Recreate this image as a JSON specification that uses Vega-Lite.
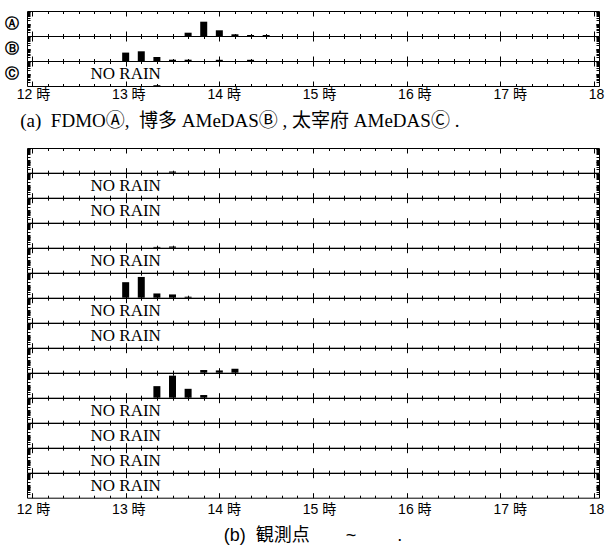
{
  "$schema": "https://vega.github.io/schema/vega-lite/v6.json",
  "padding": {"left": 3, "top": 10, "right": 0, "bottom": 0},
  "config": {
    "view": {"stroke": "black", "strokeWidth": 1},
    "axis": {"grid": false, "labels": false, "domain": false, "tickColor": "black", "labelColor": "black"}
  },
  "datasets": {
    "d": [
      {"st": "A", "t": "2000-01-01T13:40Z", "v": 3.3},
      {"st": "A", "t": "2000-01-01T13:50Z", "v": 14.3},
      {"st": "A", "t": "2000-01-01T14:00Z", "v": 5.7},
      {"st": "A", "t": "2000-01-01T14:10Z", "v": 1.7},
      {"st": "A", "t": "2000-01-01T14:20Z", "v": 1},
      {"st": "A", "t": "2000-01-01T14:30Z", "v": 1},
      {"st": "B", "t": "2000-01-01T13:00Z", "v": 8.4},
      {"st": "B", "t": "2000-01-01T13:10Z", "v": 9.7},
      {"st": "B", "t": "2000-01-01T13:20Z", "v": 4},
      {"st": "B", "t": "2000-01-01T13:30Z", "v": 1.3},
      {"st": "B", "t": "2000-01-01T13:40Z", "v": 1.3},
      {"st": "B", "t": "2000-01-01T14:00Z", "v": 1.2},
      {"st": "B", "t": "2000-01-01T14:20Z", "v": 1.2},
      {"st": "C", "t": "2000-01-01T13:20Z", "v": 0.8},
      {"st": "C", "note": "NO RAIN"},
      {"st": "1", "t": "2000-01-01T13:30Z", "v": 1.2},
      {"st": "2", "note": "NO RAIN"},
      {"st": "3", "note": "NO RAIN"},
      {"st": "4", "t": "2000-01-01T13:20Z", "v": 0.8},
      {"st": "4", "t": "2000-01-01T13:30Z", "v": 1.2},
      {"st": "5", "note": "NO RAIN"},
      {"st": "6", "t": "2000-01-01T13:00Z", "v": 15.7},
      {"st": "6", "t": "2000-01-01T13:10Z", "v": 21},
      {"st": "6", "t": "2000-01-01T13:20Z", "v": 4.3},
      {"st": "6", "t": "2000-01-01T13:30Z", "v": 3.3},
      {"st": "6", "t": "2000-01-01T13:40Z", "v": 1},
      {"st": "7", "note": "NO RAIN"},
      {"st": "8", "note": "NO RAIN"},
      {"st": "9", "t": "2000-01-01T13:50Z", "v": 2.7},
      {"st": "9", "t": "2000-01-01T14:00Z", "v": 2.3},
      {"st": "9", "t": "2000-01-01T14:10Z", "v": 4},
      {"st": "10", "t": "2000-01-01T13:20Z", "v": 11.7},
      {"st": "10", "t": "2000-01-01T13:30Z", "v": 22.3},
      {"st": "10", "t": "2000-01-01T13:40Z", "v": 9},
      {"st": "10", "t": "2000-01-01T13:50Z", "v": 2.7},
      {"st": "11", "note": "NO RAIN"},
      {"st": "12", "note": "NO RAIN"},
      {"st": "13", "note": "NO RAIN"},
      {"st": "14", "note": "NO RAIN"}
    ]
  },
  "vconcat": [
    {
      "data": {"name": "d"}, "transform": [{"filter": "datum.st == 'A'"}],
      "width": 572, "height": 25,
      "layer": [
        {"mark": {"type": "bar", "size": 7, "color": "black"},
         "encoding": {
           "x": {"field": "t", "type": "temporal", "scale": {"type": "utc", "domain": [946728000000, 946749600000]},
             "axis": {"orient": "bottom", "title": null, "offset": -5, "tickSize": 10, "values": [946728000000,946728600000,946729200000,946729800000,946730400000,946731000000,946731600000,946732200000,946732800000,946733400000,946734000000,946734600000,946735200000,946735800000,946736400000,946737000000,946737600000,946738200000,946738800000,946739400000,946740000000,946740600000,946741200000,946741800000,946742400000,946743000000,946743600000,946744200000,946744800000,946745400000,946746000000,946746600000,946747200000,946747800000,946748400000,946749000000,946749600000],
               "tickDash": {"condition": {"test": "utcminutes(datum.value) === 0", "value": []}, "value": [0, 2.5, 5, 10]}}},
           "y": {"field": "v", "type": "quantitative", "scale": {"domain": [0, 25], "nice": false},
             "axis": {"orient": "left", "offset": -3, "tickSize": 3, "values": [3.8,6,7.5,8.7,9.7,10.6,11.3,11.9,12.5,16.3,18.5,20,21.2,22.2,23.1,23.8,24.4],
               "title": "Ⓐ", "titleAngle": 0, "titleX": -19, "titleY": 12.5, "titleAlign": "center", "titleBaseline": "middle", "titleFontSize": 14, "titleFontWeight": "bold", "titleColor": "black"}}}},
        {"mark": {"type": "point", "opacity": 0},
         "encoding": {
           "x": {"field": "t", "type": "temporal", "axis": {"orient": "top", "title": null, "offset": -5, "tickSize": 5, "values": [946728000000,946728600000,946729200000,946729800000,946730400000,946731000000,946731600000,946732200000,946732800000,946733400000,946734000000,946734600000,946735200000,946735800000,946736400000,946737000000,946737600000,946738200000,946738800000,946739400000,946740000000,946740600000,946741200000,946741800000,946742400000,946743000000,946743600000,946744200000,946744800000,946745400000,946746000000,946746600000,946747200000,946747800000,946748400000,946749000000,946749600000],
               "tickDash": {"condition": {"test": "utcminutes(datum.value) === 0", "value": []}, "value": [0, 2.5, 2.5]}}},
           "y": {"field": "v", "type": "quantitative", "axis": {"orient": "right", "title": null, "offset": -3, "tickSize": 3, "values": [3.8,6,7.5,8.7,9.7,10.6,11.3,11.9,12.5,16.3,18.5,20,21.2,22.2,23.1,23.8,24.4]}}}}
      ],
      "resolve": {"axis": {"x": "independent", "y": "independent"}}
    },
    {
      "data": {"name": "d"}, "transform": [{"filter": "datum.st == 'B'"}],
      "width": 572, "height": 25,
      "layer": [
        {"mark": {"type": "bar", "size": 7, "color": "black"},
         "encoding": {
           "x": {"field": "t", "type": "temporal", "scale": {"type": "utc", "domain": [946728000000, 946749600000]},
             "axis": {"orient": "bottom", "title": null, "offset": -5, "tickSize": 10, "values": [946728000000,946728600000,946729200000,946729800000,946730400000,946731000000,946731600000,946732200000,946732800000,946733400000,946734000000,946734600000,946735200000,946735800000,946736400000,946737000000,946737600000,946738200000,946738800000,946739400000,946740000000,946740600000,946741200000,946741800000,946742400000,946743000000,946743600000,946744200000,946744800000,946745400000,946746000000,946746600000,946747200000,946747800000,946748400000,946749000000,946749600000],
               "tickDash": {"condition": {"test": "utcminutes(datum.value) === 0", "value": []}, "value": [0, 2.5, 5, 10]}}},
           "y": {"field": "v", "type": "quantitative", "scale": {"domain": [0, 25], "nice": false},
             "axis": {"orient": "left", "offset": -3, "tickSize": 3, "values": [3.8,6,7.5,8.7,9.7,10.6,11.3,11.9,12.5,16.3,18.5,20,21.2,22.2,23.1,23.8,24.4],
               "title": "Ⓑ", "titleAngle": 0, "titleX": -19, "titleY": 12.5, "titleAlign": "center", "titleBaseline": "middle", "titleFontSize": 14, "titleFontWeight": "bold", "titleColor": "black"}}}},
        {"mark": {"type": "point", "opacity": 0},
         "encoding": {
           "x": {"field": "t", "type": "temporal", "axis": null},
           "y": {"field": "v", "type": "quantitative", "axis": {"orient": "right", "title": null, "offset": -3, "tickSize": 3, "values": [3.8,6,7.5,8.7,9.7,10.6,11.3,11.9,12.5,16.3,18.5,20,21.2,22.2,23.1,23.8,24.4]}}}}
      ],
      "resolve": {"axis": {"x": "independent", "y": "independent"}}
    },
    {
      "data": {"name": "d"}, "transform": [{"filter": "datum.st == 'C'"}],
      "width": 572, "height": 25,
      "layer": [
        {"mark": {"type": "bar", "size": 7, "color": "black"},
         "encoding": {
           "x": {"field": "t", "type": "temporal", "scale": {"type": "utc", "domain": [946728000000, 946749600000]},
             "axis": {"orient": "bottom", "title": null, "offset": -5, "tickSize": 5, "values": [946728000000,946728600000,946729200000,946729800000,946730400000,946731000000,946731600000,946732200000,946732800000,946733400000,946734000000,946734600000,946735200000,946735800000,946736400000,946737000000,946737600000,946738200000,946738800000,946739400000,946740000000,946740600000,946741200000,946741800000,946742400000,946743000000,946743600000,946744200000,946744800000,946745400000,946746000000,946746600000,946747200000,946747800000,946748400000,946749000000,946749600000],
               "tickDash": {"condition": {"test": "utcminutes(datum.value) === 0", "value": []}, "value": [0, 2.5, 2.5]}}},
           "y": {"field": "v", "type": "quantitative", "scale": {"domain": [0, 25], "nice": false},
             "axis": {"orient": "left", "offset": -3, "tickSize": 3, "values": [3.8,6,7.5,8.7,9.7,10.6,11.3,11.9,12.5,16.3,18.5,20,21.2,22.2,23.1,23.8,24.4],
               "title": "Ⓒ", "titleAngle": 0, "titleX": -19, "titleY": 12.5, "titleAlign": "center", "titleBaseline": "middle", "titleFontSize": 14, "titleFontWeight": "bold", "titleColor": "black"}}}},
        {"mark": {"type": "point", "opacity": 0},
         "encoding": {
           "x": {"field": "t", "type": "temporal", "axis": null},
           "y": {"field": "v", "type": "quantitative", "axis": {"orient": "right", "title": null, "offset": -3, "tickSize": 3, "values": [3.8,6,7.5,8.7,9.7,10.6,11.3,11.9,12.5,16.3,18.5,20,21.2,22.2,23.1,23.8,24.4]}}}},
        {"transform": [{"filter": "datum.note != null"}],
         "mark": {"type": "text", "font": "Liberation Serif", "fontSize": 17, "color": "black", "align": "center", "baseline": "middle"},
         "encoding": {"x": {"datum": 946731600000, "type": "temporal", "axis": null}, "y": {"datum": 12, "type": "quantitative", "axis": null}, "text": {"field": "note"}}}
      ],
      "resolve": {"axis": {"x": "independent", "y": "independent"}}
    },
    {
      "data": {"name": "d"}, "transform": [{"filter": "datum.st == 'A'"}],
      "width": 572, "height": 62, "view": {"stroke": null},
      "mark": {"type": "point", "opacity": 0},
      "encoding": {
        "x": {"field": "t", "type": "temporal", "scale": {"type": "utc", "domain": [946728000000, 946749600000]},
          "axis": {"orient": "top", "title": null, "offset": -15, "ticks": false, "tickSize": 0, "labels": true, "labelPadding": 0, "labelFlush": false, "labelOverlap": false, "labelOffset": 6,
            "values": [946728000000,946731600000,946735200000,946738800000,946742400000,946746000000,946749600000],
            "labelExpr": "utchours(datum.value) + ' 時'", "labelFont": "Liberation Sans, Noto Sans CJK JP", "labelFontSize": 14}}
      },
      "title": {"text": "(a)\u00a0\u00a0FDMOⒶ,\u00a0\u00a0博多 AMeDASⒷ , 太宰府 AMeDASⒸ\u00a0.", "orient": "bottom", "offset": -36, "anchor": "start", "dx": 4,
        "font": "Liberation Serif, Noto Sans CJK JP", "fontSize": 19, "fontWeight": "normal", "color": "black"}
    },
    {
      "data": {"name": "d"}, "transform": [{"filter": "datum.st == '1'"}],
      "width": 572, "height": 24.7,
      "layer": [
        {"mark": {"type": "bar", "size": 7, "color": "black"},
         "encoding": {
           "x": {"field": "t", "type": "temporal", "scale": {"type": "utc", "domain": [946728000000, 946749600000]},
             "axis": {"orient": "bottom", "title": null, "offset": -5, "tickSize": 10, "values": [946728000000,946728600000,946729200000,946729800000,946730400000,946731000000,946731600000,946732200000,946732800000,946733400000,946734000000,946734600000,946735200000,946735800000,946736400000,946737000000,946737600000,946738200000,946738800000,946739400000,946740000000,946740600000,946741200000,946741800000,946742400000,946743000000,946743600000,946744200000,946744800000,946745400000,946746000000,946746600000,946747200000,946747800000,946748400000,946749000000,946749600000],
               "tickDash": {"condition": {"test": "utcminutes(datum.value) === 0", "value": []}, "value": [0, 2.5, 5, 10]}}},
           "y": {"field": "v", "type": "quantitative", "scale": {"domain": [0, 25], "nice": false},
             "axis": {"orient": "left", "title": null, "offset": -3, "tickSize": 3, "values": [3.8,6,7.5,8.7,9.7,10.6,11.3,11.9,12.5,16.3,18.5,20,21.2,22.2,23.1,23.8,24.4]}}}},
        {"mark": {"type": "point", "opacity": 0},
         "encoding": {
           "x": {"field": "t", "type": "temporal", "axis": {"orient": "top", "title": null, "offset": -5, "tickSize": 5, "values": [946728000000,946728600000,946729200000,946729800000,946730400000,946731000000,946731600000,946732200000,946732800000,946733400000,946734000000,946734600000,946735200000,946735800000,946736400000,946737000000,946737600000,946738200000,946738800000,946739400000,946740000000,946740600000,946741200000,946741800000,946742400000,946743000000,946743600000,946744200000,946744800000,946745400000,946746000000,946746600000,946747200000,946747800000,946748400000,946749000000,946749600000],
               "tickDash": {"condition": {"test": "utcminutes(datum.value) === 0", "value": []}, "value": [0, 2.5, 2.5]}}},
           "y": {"field": "v", "type": "quantitative", "axis": {"orient": "right", "title": null, "offset": -3, "tickSize": 3, "values": [3.8,6,7.5,8.7,9.7,10.6,11.3,11.9,12.5,16.3,18.5,20,21.2,22.2,23.1,23.8,24.4]}}}}
      ],
      "resolve": {"axis": {"x": "independent", "y": "independent"}}
    },
    {
      "data": {"name": "d"}, "transform": [{"filter": "datum.st == '2'"}],
      "width": 572, "height": 24.7,
      "layer": [
        {"mark": {"type": "bar", "size": 7, "color": "black"},
         "encoding": {
           "x": {"field": "t", "type": "temporal", "scale": {"type": "utc", "domain": [946728000000, 946749600000]},
             "axis": {"orient": "bottom", "title": null, "offset": -5, "tickSize": 10, "values": [946728000000,946728600000,946729200000,946729800000,946730400000,946731000000,946731600000,946732200000,946732800000,946733400000,946734000000,946734600000,946735200000,946735800000,946736400000,946737000000,946737600000,946738200000,946738800000,946739400000,946740000000,946740600000,946741200000,946741800000,946742400000,946743000000,946743600000,946744200000,946744800000,946745400000,946746000000,946746600000,946747200000,946747800000,946748400000,946749000000,946749600000],
               "tickDash": {"condition": {"test": "utcminutes(datum.value) === 0", "value": []}, "value": [0, 2.5, 5, 10]}}},
           "y": {"field": "v", "type": "quantitative", "scale": {"domain": [0, 25], "nice": false},
             "axis": {"orient": "left", "title": null, "offset": -3, "tickSize": 3, "values": [3.8,6,7.5,8.7,9.7,10.6,11.3,11.9,12.5,16.3,18.5,20,21.2,22.2,23.1,23.8,24.4]}}}},
        {"mark": {"type": "point", "opacity": 0},
         "encoding": {
           "x": {"field": "t", "type": "temporal", "axis": null},
           "y": {"field": "v", "type": "quantitative", "axis": {"orient": "right", "title": null, "offset": -3, "tickSize": 3, "values": [3.8,6,7.5,8.7,9.7,10.6,11.3,11.9,12.5,16.3,18.5,20,21.2,22.2,23.1,23.8,24.4]}}}},
        {"transform": [{"filter": "datum.note != null"}],
         "mark": {"type": "text", "font": "Liberation Serif", "fontSize": 17, "color": "black", "align": "center", "baseline": "middle"},
         "encoding": {"x": {"datum": 946731600000, "type": "temporal", "axis": null}, "y": {"datum": 12, "type": "quantitative", "axis": null}, "text": {"field": "note"}}}
      ],
      "resolve": {"axis": {"x": "independent", "y": "independent"}}
    },
    {
      "data": {"name": "d"}, "transform": [{"filter": "datum.st == '3'"}],
      "width": 572, "height": 24.7,
      "layer": [
        {"mark": {"type": "bar", "size": 7, "color": "black"},
         "encoding": {
           "x": {"field": "t", "type": "temporal", "scale": {"type": "utc", "domain": [946728000000, 946749600000]},
             "axis": {"orient": "bottom", "title": null, "offset": -5, "tickSize": 10, "values": [946728000000,946728600000,946729200000,946729800000,946730400000,946731000000,946731600000,946732200000,946732800000,946733400000,946734000000,946734600000,946735200000,946735800000,946736400000,946737000000,946737600000,946738200000,946738800000,946739400000,946740000000,946740600000,946741200000,946741800000,946742400000,946743000000,946743600000,946744200000,946744800000,946745400000,946746000000,946746600000,946747200000,946747800000,946748400000,946749000000,946749600000],
               "tickDash": {"condition": {"test": "utcminutes(datum.value) === 0", "value": []}, "value": [0, 2.5, 5, 10]}}},
           "y": {"field": "v", "type": "quantitative", "scale": {"domain": [0, 25], "nice": false},
             "axis": {"orient": "left", "title": null, "offset": -3, "tickSize": 3, "values": [3.8,6,7.5,8.7,9.7,10.6,11.3,11.9,12.5,16.3,18.5,20,21.2,22.2,23.1,23.8,24.4]}}}},
        {"mark": {"type": "point", "opacity": 0},
         "encoding": {
           "x": {"field": "t", "type": "temporal", "axis": null},
           "y": {"field": "v", "type": "quantitative", "axis": {"orient": "right", "title": null, "offset": -3, "tickSize": 3, "values": [3.8,6,7.5,8.7,9.7,10.6,11.3,11.9,12.5,16.3,18.5,20,21.2,22.2,23.1,23.8,24.4]}}}},
        {"transform": [{"filter": "datum.note != null"}],
         "mark": {"type": "text", "font": "Liberation Serif", "fontSize": 17, "color": "black", "align": "center", "baseline": "middle"},
         "encoding": {"x": {"datum": 946731600000, "type": "temporal", "axis": null}, "y": {"datum": 12, "type": "quantitative", "axis": null}, "text": {"field": "note"}}}
      ],
      "resolve": {"axis": {"x": "independent", "y": "independent"}}
    },
    {
      "data": {"name": "d"}, "transform": [{"filter": "datum.st == '4'"}],
      "width": 572, "height": 24.7,
      "layer": [
        {"mark": {"type": "bar", "size": 7, "color": "black"},
         "encoding": {
           "x": {"field": "t", "type": "temporal", "scale": {"type": "utc", "domain": [946728000000, 946749600000]},
             "axis": {"orient": "bottom", "title": null, "offset": -5, "tickSize": 10, "values": [946728000000,946728600000,946729200000,946729800000,946730400000,946731000000,946731600000,946732200000,946732800000,946733400000,946734000000,946734600000,946735200000,946735800000,946736400000,946737000000,946737600000,946738200000,946738800000,946739400000,946740000000,946740600000,946741200000,946741800000,946742400000,946743000000,946743600000,946744200000,946744800000,946745400000,946746000000,946746600000,946747200000,946747800000,946748400000,946749000000,946749600000],
               "tickDash": {"condition": {"test": "utcminutes(datum.value) === 0", "value": []}, "value": [0, 2.5, 5, 10]}}},
           "y": {"field": "v", "type": "quantitative", "scale": {"domain": [0, 25], "nice": false},
             "axis": {"orient": "left", "title": null, "offset": -3, "tickSize": 3, "values": [3.8,6,7.5,8.7,9.7,10.6,11.3,11.9,12.5,16.3,18.5,20,21.2,22.2,23.1,23.8,24.4]}}}},
        {"mark": {"type": "point", "opacity": 0},
         "encoding": {
           "x": {"field": "t", "type": "temporal", "axis": null},
           "y": {"field": "v", "type": "quantitative", "axis": {"orient": "right", "title": null, "offset": -3, "tickSize": 3, "values": [3.8,6,7.5,8.7,9.7,10.6,11.3,11.9,12.5,16.3,18.5,20,21.2,22.2,23.1,23.8,24.4]}}}}
      ],
      "resolve": {"axis": {"x": "independent", "y": "independent"}}
    },
    {
      "data": {"name": "d"}, "transform": [{"filter": "datum.st == '5'"}],
      "width": 572, "height": 24.7,
      "layer": [
        {"mark": {"type": "bar", "size": 7, "color": "black"},
         "encoding": {
           "x": {"field": "t", "type": "temporal", "scale": {"type": "utc", "domain": [946728000000, 946749600000]},
             "axis": {"orient": "bottom", "title": null, "offset": -5, "tickSize": 10, "values": [946728000000,946728600000,946729200000,946729800000,946730400000,946731000000,946731600000,946732200000,946732800000,946733400000,946734000000,946734600000,946735200000,946735800000,946736400000,946737000000,946737600000,946738200000,946738800000,946739400000,946740000000,946740600000,946741200000,946741800000,946742400000,946743000000,946743600000,946744200000,946744800000,946745400000,946746000000,946746600000,946747200000,946747800000,946748400000,946749000000,946749600000],
               "tickDash": {"condition": {"test": "utcminutes(datum.value) === 0", "value": []}, "value": [0, 2.5, 5, 10]}}},
           "y": {"field": "v", "type": "quantitative", "scale": {"domain": [0, 25], "nice": false},
             "axis": {"orient": "left", "title": null, "offset": -3, "tickSize": 3, "values": [3.8,6,7.5,8.7,9.7,10.6,11.3,11.9,12.5,16.3,18.5,20,21.2,22.2,23.1,23.8,24.4]}}}},
        {"mark": {"type": "point", "opacity": 0},
         "encoding": {
           "x": {"field": "t", "type": "temporal", "axis": null},
           "y": {"field": "v", "type": "quantitative", "axis": {"orient": "right", "title": null, "offset": -3, "tickSize": 3, "values": [3.8,6,7.5,8.7,9.7,10.6,11.3,11.9,12.5,16.3,18.5,20,21.2,22.2,23.1,23.8,24.4]}}}},
        {"transform": [{"filter": "datum.note != null"}],
         "mark": {"type": "text", "font": "Liberation Serif", "fontSize": 17, "color": "black", "align": "center", "baseline": "middle"},
         "encoding": {"x": {"datum": 946731600000, "type": "temporal", "axis": null}, "y": {"datum": 12, "type": "quantitative", "axis": null}, "text": {"field": "note"}}}
      ],
      "resolve": {"axis": {"x": "independent", "y": "independent"}}
    },
    {
      "data": {"name": "d"}, "transform": [{"filter": "datum.st == '6'"}],
      "width": 572, "height": 24.7,
      "layer": [
        {"mark": {"type": "bar", "size": 7, "color": "black"},
         "encoding": {
           "x": {"field": "t", "type": "temporal", "scale": {"type": "utc", "domain": [946728000000, 946749600000]},
             "axis": {"orient": "bottom", "title": null, "offset": -5, "tickSize": 10, "values": [946728000000,946728600000,946729200000,946729800000,946730400000,946731000000,946731600000,946732200000,946732800000,946733400000,946734000000,946734600000,946735200000,946735800000,946736400000,946737000000,946737600000,946738200000,946738800000,946739400000,946740000000,946740600000,946741200000,946741800000,946742400000,946743000000,946743600000,946744200000,946744800000,946745400000,946746000000,946746600000,946747200000,946747800000,946748400000,946749000000,946749600000],
               "tickDash": {"condition": {"test": "utcminutes(datum.value) === 0", "value": []}, "value": [0, 2.5, 5, 10]}}},
           "y": {"field": "v", "type": "quantitative", "scale": {"domain": [0, 25], "nice": false},
             "axis": {"orient": "left", "title": null, "offset": -3, "tickSize": 3, "values": [3.8,6,7.5,8.7,9.7,10.6,11.3,11.9,12.5,16.3,18.5,20,21.2,22.2,23.1,23.8,24.4]}}}},
        {"mark": {"type": "point", "opacity": 0},
         "encoding": {
           "x": {"field": "t", "type": "temporal", "axis": null},
           "y": {"field": "v", "type": "quantitative", "axis": {"orient": "right", "title": null, "offset": -3, "tickSize": 3, "values": [3.8,6,7.5,8.7,9.7,10.6,11.3,11.9,12.5,16.3,18.5,20,21.2,22.2,23.1,23.8,24.4]}}}}
      ],
      "resolve": {"axis": {"x": "independent", "y": "independent"}}
    },
    {
      "data": {"name": "d"}, "transform": [{"filter": "datum.st == '7'"}],
      "width": 572, "height": 24.7,
      "layer": [
        {"mark": {"type": "bar", "size": 7, "color": "black"},
         "encoding": {
           "x": {"field": "t", "type": "temporal", "scale": {"type": "utc", "domain": [946728000000, 946749600000]},
             "axis": {"orient": "bottom", "title": null, "offset": -5, "tickSize": 10, "values": [946728000000,946728600000,946729200000,946729800000,946730400000,946731000000,946731600000,946732200000,946732800000,946733400000,946734000000,946734600000,946735200000,946735800000,946736400000,946737000000,946737600000,946738200000,946738800000,946739400000,946740000000,946740600000,946741200000,946741800000,946742400000,946743000000,946743600000,946744200000,946744800000,946745400000,946746000000,946746600000,946747200000,946747800000,946748400000,946749000000,946749600000],
               "tickDash": {"condition": {"test": "utcminutes(datum.value) === 0", "value": []}, "value": [0, 2.5, 5, 10]}}},
           "y": {"field": "v", "type": "quantitative", "scale": {"domain": [0, 25], "nice": false},
             "axis": {"orient": "left", "title": null, "offset": -3, "tickSize": 3, "values": [3.8,6,7.5,8.7,9.7,10.6,11.3,11.9,12.5,16.3,18.5,20,21.2,22.2,23.1,23.8,24.4]}}}},
        {"mark": {"type": "point", "opacity": 0},
         "encoding": {
           "x": {"field": "t", "type": "temporal", "axis": null},
           "y": {"field": "v", "type": "quantitative", "axis": {"orient": "right", "title": null, "offset": -3, "tickSize": 3, "values": [3.8,6,7.5,8.7,9.7,10.6,11.3,11.9,12.5,16.3,18.5,20,21.2,22.2,23.1,23.8,24.4]}}}},
        {"transform": [{"filter": "datum.note != null"}],
         "mark": {"type": "text", "font": "Liberation Serif", "fontSize": 17, "color": "black", "align": "center", "baseline": "middle"},
         "encoding": {"x": {"datum": 946731600000, "type": "temporal", "axis": null}, "y": {"datum": 12, "type": "quantitative", "axis": null}, "text": {"field": "note"}}}
      ],
      "resolve": {"axis": {"x": "independent", "y": "independent"}}
    },
    {
      "data": {"name": "d"}, "transform": [{"filter": "datum.st == '8'"}],
      "width": 572, "height": 24.7,
      "layer": [
        {"mark": {"type": "bar", "size": 7, "color": "black"},
         "encoding": {
           "x": {"field": "t", "type": "temporal", "scale": {"type": "utc", "domain": [946728000000, 946749600000]},
             "axis": {"orient": "bottom", "title": null, "offset": -5, "tickSize": 10, "values": [946728000000,946728600000,946729200000,946729800000,946730400000,946731000000,946731600000,946732200000,946732800000,946733400000,946734000000,946734600000,946735200000,946735800000,946736400000,946737000000,946737600000,946738200000,946738800000,946739400000,946740000000,946740600000,946741200000,946741800000,946742400000,946743000000,946743600000,946744200000,946744800000,946745400000,946746000000,946746600000,946747200000,946747800000,946748400000,946749000000,946749600000],
               "tickDash": {"condition": {"test": "utcminutes(datum.value) === 0", "value": []}, "value": [0, 2.5, 5, 10]}}},
           "y": {"field": "v", "type": "quantitative", "scale": {"domain": [0, 25], "nice": false},
             "axis": {"orient": "left", "title": null, "offset": -3, "tickSize": 3, "values": [3.8,6,7.5,8.7,9.7,10.6,11.3,11.9,12.5,16.3,18.5,20,21.2,22.2,23.1,23.8,24.4]}}}},
        {"mark": {"type": "point", "opacity": 0},
         "encoding": {
           "x": {"field": "t", "type": "temporal", "axis": null},
           "y": {"field": "v", "type": "quantitative", "axis": {"orient": "right", "title": null, "offset": -3, "tickSize": 3, "values": [3.8,6,7.5,8.7,9.7,10.6,11.3,11.9,12.5,16.3,18.5,20,21.2,22.2,23.1,23.8,24.4]}}}},
        {"transform": [{"filter": "datum.note != null"}],
         "mark": {"type": "text", "font": "Liberation Serif", "fontSize": 17, "color": "black", "align": "center", "baseline": "middle"},
         "encoding": {"x": {"datum": 946731600000, "type": "temporal", "axis": null}, "y": {"datum": 12, "type": "quantitative", "axis": null}, "text": {"field": "note"}}}
      ],
      "resolve": {"axis": {"x": "independent", "y": "independent"}}
    },
    {
      "data": {"name": "d"}, "transform": [{"filter": "datum.st == '9'"}],
      "width": 572, "height": 24.7,
      "layer": [
        {"mark": {"type": "bar", "size": 7, "color": "black"},
         "encoding": {
           "x": {"field": "t", "type": "temporal", "scale": {"type": "utc", "domain": [946728000000, 946749600000]},
             "axis": {"orient": "bottom", "title": null, "offset": -5, "tickSize": 10, "values": [946728000000,946728600000,946729200000,946729800000,946730400000,946731000000,946731600000,946732200000,946732800000,946733400000,946734000000,946734600000,946735200000,946735800000,946736400000,946737000000,946737600000,946738200000,946738800000,946739400000,946740000000,946740600000,946741200000,946741800000,946742400000,946743000000,946743600000,946744200000,946744800000,946745400000,946746000000,946746600000,946747200000,946747800000,946748400000,946749000000,946749600000],
               "tickDash": {"condition": {"test": "utcminutes(datum.value) === 0", "value": []}, "value": [0, 2.5, 5, 10]}}},
           "y": {"field": "v", "type": "quantitative", "scale": {"domain": [0, 25], "nice": false},
             "axis": {"orient": "left", "title": null, "offset": -3, "tickSize": 3, "values": [3.8,6,7.5,8.7,9.7,10.6,11.3,11.9,12.5,16.3,18.5,20,21.2,22.2,23.1,23.8,24.4]}}}},
        {"mark": {"type": "point", "opacity": 0},
         "encoding": {
           "x": {"field": "t", "type": "temporal", "axis": null},
           "y": {"field": "v", "type": "quantitative", "axis": {"orient": "right", "title": null, "offset": -3, "tickSize": 3, "values": [3.8,6,7.5,8.7,9.7,10.6,11.3,11.9,12.5,16.3,18.5,20,21.2,22.2,23.1,23.8,24.4]}}}}
      ],
      "resolve": {"axis": {"x": "independent", "y": "independent"}}
    },
    {
      "data": {"name": "d"}, "transform": [{"filter": "datum.st == '10'"}],
      "width": 572, "height": 24.7,
      "layer": [
        {"mark": {"type": "bar", "size": 7, "color": "black"},
         "encoding": {
           "x": {"field": "t", "type": "temporal", "scale": {"type": "utc", "domain": [946728000000, 946749600000]},
             "axis": {"orient": "bottom", "title": null, "offset": -5, "tickSize": 10, "values": [946728000000,946728600000,946729200000,946729800000,946730400000,946731000000,946731600000,946732200000,946732800000,946733400000,946734000000,946734600000,946735200000,946735800000,946736400000,946737000000,946737600000,946738200000,946738800000,946739400000,946740000000,946740600000,946741200000,946741800000,946742400000,946743000000,946743600000,946744200000,946744800000,946745400000,946746000000,946746600000,946747200000,946747800000,946748400000,946749000000,946749600000],
               "tickDash": {"condition": {"test": "utcminutes(datum.value) === 0", "value": []}, "value": [0, 2.5, 5, 10]}}},
           "y": {"field": "v", "type": "quantitative", "scale": {"domain": [0, 25], "nice": false},
             "axis": {"orient": "left", "title": null, "offset": -3, "tickSize": 3, "values": [3.8,6,7.5,8.7,9.7,10.6,11.3,11.9,12.5,16.3,18.5,20,21.2,22.2,23.1,23.8,24.4]}}}},
        {"mark": {"type": "point", "opacity": 0},
         "encoding": {
           "x": {"field": "t", "type": "temporal", "axis": null},
           "y": {"field": "v", "type": "quantitative", "axis": {"orient": "right", "title": null, "offset": -3, "tickSize": 3, "values": [3.8,6,7.5,8.7,9.7,10.6,11.3,11.9,12.5,16.3,18.5,20,21.2,22.2,23.1,23.8,24.4]}}}}
      ],
      "resolve": {"axis": {"x": "independent", "y": "independent"}}
    },
    {
      "data": {"name": "d"}, "transform": [{"filter": "datum.st == '11'"}],
      "width": 572, "height": 24.7,
      "layer": [
        {"mark": {"type": "bar", "size": 7, "color": "black"},
         "encoding": {
           "x": {"field": "t", "type": "temporal", "scale": {"type": "utc", "domain": [946728000000, 946749600000]},
             "axis": {"orient": "bottom", "title": null, "offset": -5, "tickSize": 10, "values": [946728000000,946728600000,946729200000,946729800000,946730400000,946731000000,946731600000,946732200000,946732800000,946733400000,946734000000,946734600000,946735200000,946735800000,946736400000,946737000000,946737600000,946738200000,946738800000,946739400000,946740000000,946740600000,946741200000,946741800000,946742400000,946743000000,946743600000,946744200000,946744800000,946745400000,946746000000,946746600000,946747200000,946747800000,946748400000,946749000000,946749600000],
               "tickDash": {"condition": {"test": "utcminutes(datum.value) === 0", "value": []}, "value": [0, 2.5, 5, 10]}}},
           "y": {"field": "v", "type": "quantitative", "scale": {"domain": [0, 25], "nice": false},
             "axis": {"orient": "left", "title": null, "offset": -3, "tickSize": 3, "values": [3.8,6,7.5,8.7,9.7,10.6,11.3,11.9,12.5,16.3,18.5,20,21.2,22.2,23.1,23.8,24.4]}}}},
        {"mark": {"type": "point", "opacity": 0},
         "encoding": {
           "x": {"field": "t", "type": "temporal", "axis": null},
           "y": {"field": "v", "type": "quantitative", "axis": {"orient": "right", "title": null, "offset": -3, "tickSize": 3, "values": [3.8,6,7.5,8.7,9.7,10.6,11.3,11.9,12.5,16.3,18.5,20,21.2,22.2,23.1,23.8,24.4]}}}},
        {"transform": [{"filter": "datum.note != null"}],
         "mark": {"type": "text", "font": "Liberation Serif", "fontSize": 17, "color": "black", "align": "center", "baseline": "middle"},
         "encoding": {"x": {"datum": 946731600000, "type": "temporal", "axis": null}, "y": {"datum": 12, "type": "quantitative", "axis": null}, "text": {"field": "note"}}}
      ],
      "resolve": {"axis": {"x": "independent", "y": "independent"}}
    },
    {
      "data": {"name": "d"}, "transform": [{"filter": "datum.st == '12'"}],
      "width": 572, "height": 24.7,
      "layer": [
        {"mark": {"type": "bar", "size": 7, "color": "black"},
         "encoding": {
           "x": {"field": "t", "type": "temporal", "scale": {"type": "utc", "domain": [946728000000, 946749600000]},
             "axis": {"orient": "bottom", "title": null, "offset": -5, "tickSize": 10, "values": [946728000000,946728600000,946729200000,946729800000,946730400000,946731000000,946731600000,946732200000,946732800000,946733400000,946734000000,946734600000,946735200000,946735800000,946736400000,946737000000,946737600000,946738200000,946738800000,946739400000,946740000000,946740600000,946741200000,946741800000,946742400000,946743000000,946743600000,946744200000,946744800000,946745400000,946746000000,946746600000,946747200000,946747800000,946748400000,946749000000,946749600000],
               "tickDash": {"condition": {"test": "utcminutes(datum.value) === 0", "value": []}, "value": [0, 2.5, 5, 10]}}},
           "y": {"field": "v", "type": "quantitative", "scale": {"domain": [0, 25], "nice": false},
             "axis": {"orient": "left", "title": null, "offset": -3, "tickSize": 3, "values": [3.8,6,7.5,8.7,9.7,10.6,11.3,11.9,12.5,16.3,18.5,20,21.2,22.2,23.1,23.8,24.4]}}}},
        {"mark": {"type": "point", "opacity": 0},
         "encoding": {
           "x": {"field": "t", "type": "temporal", "axis": null},
           "y": {"field": "v", "type": "quantitative", "axis": {"orient": "right", "title": null, "offset": -3, "tickSize": 3, "values": [3.8,6,7.5,8.7,9.7,10.6,11.3,11.9,12.5,16.3,18.5,20,21.2,22.2,23.1,23.8,24.4]}}}},
        {"transform": [{"filter": "datum.note != null"}],
         "mark": {"type": "text", "font": "Liberation Serif", "fontSize": 17, "color": "black", "align": "center", "baseline": "middle"},
         "encoding": {"x": {"datum": 946731600000, "type": "temporal", "axis": null}, "y": {"datum": 12, "type": "quantitative", "axis": null}, "text": {"field": "note"}}}
      ],
      "resolve": {"axis": {"x": "independent", "y": "independent"}}
    },
    {
      "data": {"name": "d"}, "transform": [{"filter": "datum.st == '13'"}],
      "width": 572, "height": 24.7,
      "layer": [
        {"mark": {"type": "bar", "size": 7, "color": "black"},
         "encoding": {
           "x": {"field": "t", "type": "temporal", "scale": {"type": "utc", "domain": [946728000000, 946749600000]},
             "axis": {"orient": "bottom", "title": null, "offset": -5, "tickSize": 10, "values": [946728000000,946728600000,946729200000,946729800000,946730400000,946731000000,946731600000,946732200000,946732800000,946733400000,946734000000,946734600000,946735200000,946735800000,946736400000,946737000000,946737600000,946738200000,946738800000,946739400000,946740000000,946740600000,946741200000,946741800000,946742400000,946743000000,946743600000,946744200000,946744800000,946745400000,946746000000,946746600000,946747200000,946747800000,946748400000,946749000000,946749600000],
               "tickDash": {"condition": {"test": "utcminutes(datum.value) === 0", "value": []}, "value": [0, 2.5, 5, 10]}}},
           "y": {"field": "v", "type": "quantitative", "scale": {"domain": [0, 25], "nice": false},
             "axis": {"orient": "left", "title": null, "offset": -3, "tickSize": 3, "values": [3.8,6,7.5,8.7,9.7,10.6,11.3,11.9,12.5,16.3,18.5,20,21.2,22.2,23.1,23.8,24.4]}}}},
        {"mark": {"type": "point", "opacity": 0},
         "encoding": {
           "x": {"field": "t", "type": "temporal", "axis": null},
           "y": {"field": "v", "type": "quantitative", "axis": {"orient": "right", "title": null, "offset": -3, "tickSize": 3, "values": [3.8,6,7.5,8.7,9.7,10.6,11.3,11.9,12.5,16.3,18.5,20,21.2,22.2,23.1,23.8,24.4]}}}},
        {"transform": [{"filter": "datum.note != null"}],
         "mark": {"type": "text", "font": "Liberation Serif", "fontSize": 17, "color": "black", "align": "center", "baseline": "middle"},
         "encoding": {"x": {"datum": 946731600000, "type": "temporal", "axis": null}, "y": {"datum": 12, "type": "quantitative", "axis": null}, "text": {"field": "note"}}}
      ],
      "resolve": {"axis": {"x": "independent", "y": "independent"}}
    },
    {
      "data": {"name": "d"}, "transform": [{"filter": "datum.st == '14'"}],
      "width": 572, "height": 24.7,
      "layer": [
        {"mark": {"type": "bar", "size": 7, "color": "black"},
         "encoding": {
           "x": {"field": "t", "type": "temporal", "scale": {"type": "utc", "domain": [946728000000, 946749600000]},
             "axis": {"orient": "bottom", "title": null, "offset": -5, "tickSize": 5, "values": [946728000000,946728600000,946729200000,946729800000,946730400000,946731000000,946731600000,946732200000,946732800000,946733400000,946734000000,946734600000,946735200000,946735800000,946736400000,946737000000,946737600000,946738200000,946738800000,946739400000,946740000000,946740600000,946741200000,946741800000,946742400000,946743000000,946743600000,946744200000,946744800000,946745400000,946746000000,946746600000,946747200000,946747800000,946748400000,946749000000,946749600000],
               "tickDash": {"condition": {"test": "utcminutes(datum.value) === 0", "value": []}, "value": [0, 2.5, 2.5]}}},
           "y": {"field": "v", "type": "quantitative", "scale": {"domain": [0, 25], "nice": false},
             "axis": {"orient": "left", "title": null, "offset": -3, "tickSize": 3, "values": [3.8,6,7.5,8.7,9.7,10.6,11.3,11.9,12.5,16.3,18.5,20,21.2,22.2,23.1,23.8,24.4]}}}},
        {"mark": {"type": "point", "opacity": 0},
         "encoding": {
           "x": {"field": "t", "type": "temporal", "axis": null},
           "y": {"field": "v", "type": "quantitative", "axis": {"orient": "right", "title": null, "offset": -3, "tickSize": 3, "values": [3.8,6,7.5,8.7,9.7,10.6,11.3,11.9,12.5,16.3,18.5,20,21.2,22.2,23.1,23.8,24.4]}}}},
        {"transform": [{"filter": "datum.note != null"}],
         "mark": {"type": "text", "font": "Liberation Serif", "fontSize": 17, "color": "black", "align": "center", "baseline": "middle"},
         "encoding": {"x": {"datum": 946731600000, "type": "temporal", "axis": null}, "y": {"datum": 12, "type": "quantitative", "axis": null}, "text": {"field": "note"}}}
      ],
      "resolve": {"axis": {"x": "independent", "y": "independent"}}
    },
    {
      "data": {"name": "d"}, "transform": [{"filter": "datum.st == '1'"}],
      "width": 572, "height": 56, "view": {"stroke": null},
      "mark": {"type": "point", "opacity": 0},
      "encoding": {
        "x": {"field": "t", "type": "temporal", "scale": {"type": "utc", "domain": [946728000000, 946749600000]},
          "axis": {"orient": "top", "title": null, "offset": -18, "ticks": false, "tickSize": 0, "labels": true, "labelPadding": 0, "labelFlush": false, "labelOverlap": false, "labelOffset": 6,
            "values": [946728000000,946731600000,946735200000,946738800000,946742400000,946746000000,946749600000],
            "labelExpr": "utchours(datum.value) + ' 時'", "labelFont": "Liberation Sans, Noto Sans CJK JP", "labelFontSize": 14}}
      },
      "title": {"text": "(b)\u00a0\u00a0観測点\u3000\u3000~\u3000\u3000\u00a0.", "orient": "bottom", "offset": -27, "anchor": "middle",
        "font": "Liberation Sans, Noto Sans CJK JP", "fontSize": 18, "fontWeight": "normal", "color": "black"}
    }
  ],
  "spacing": 0,
  "bounds": "flush"
}
